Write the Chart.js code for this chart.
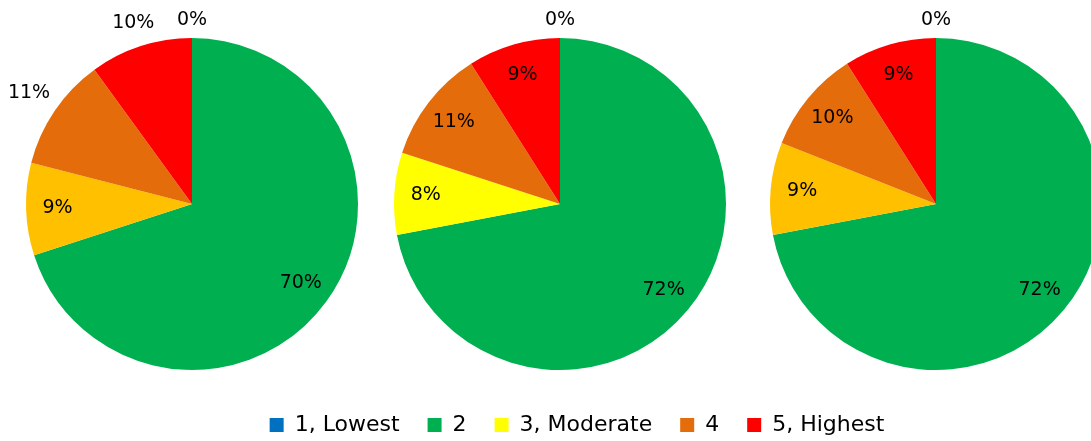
<!DOCTYPE html>
<html>
<head>
<meta charset="utf-8">
<script src="https://cdn.jsdelivr.net/npm/chart.js@4/dist/chart.umd.min.js"></script>
<style>
  html, body { margin: 0; padding: 0; background: #fff; }
  #stage { position: relative; width: 1091px; height: 441px; overflow: hidden; background: #fff; }
  #stage canvas { position: absolute; }
</style>
</head>
<body>
<div id="stage">
  <canvas id="pieA" width="432" height="432"></canvas>
  <canvas id="pieB" width="432" height="432"></canvas>
  <canvas id="pieC" width="432" height="432"></canvas>
  <canvas id="legend" width="1000" height="200"></canvas>
</div>
<script>
// Categories shared by all three pies
const categories = ['1, Lowest', '2', '3, Moderate', '4', '5, Highest'];

// Percentage shares for each pie
const sharesA = [0, 70, 9, 11, 10];
const sharesB = [0, 72, 8, 11, 9];
const sharesC = [0, 72, 9, 10, 9];

// Slice colours
const coloursAmber = ['#0070C0', '#00B050', '#FFC000', '#E46C0A', '#FF0000'];
const coloursYellow = ['#0070C0', '#00B050', '#FFFF00', '#E46C0A', '#FF0000'];

const LABEL_FONT = '19px "DejaVu Sans"';
const PIE_SIZE = 432;   // canvas size; pie radius = (PIE_SIZE - 2*PAD) / 2
const PAD = 50;

// Draws "n%" labels: inside the slice, or just outside the rim for listed slices
const sliceLabels = {
  id: 'sliceLabels',
  afterDatasetsDraw(chart, args, opts) {
    const ctx = chart.ctx;
    const meta = chart.getDatasetMeta(0);
    const values = chart.data.datasets[0].data;
    const outside = opts.outside || [];
    ctx.save();
    ctx.font = LABEL_FONT;
    ctx.fillStyle = '#000';
    ctx.textAlign = 'center';
    ctx.textBaseline = 'middle';
    meta.data.forEach((arc, i) => {
      const p = arc.getProps(['x', 'y', 'startAngle', 'endAngle', 'outerRadius'], true);
      const mid = (p.startAngle + p.endAngle) / 2;
      const text = values[i] + '%';
      const w = ctx.measureText(text).width;
      const h = 20;
      let d;
      if (outside.includes(i)) {
        d = p.outerRadius + 8 + Math.abs(Math.cos(mid)) * w / 2 + Math.abs(Math.sin(mid)) * h / 2;
      } else {
        d = p.outerRadius * 0.81;
      }
      ctx.fillText(text, p.x + Math.cos(mid) * d, p.y + Math.sin(mid) * d);
    });
    ctx.restore();
  }
};

function makePie(id, values, colours, outside, cx, cy) {
  const canvas = document.getElementById(id);
  canvas.style.left = (cx - PIE_SIZE / 2) + 'px';
  canvas.style.top = (cy - PIE_SIZE / 2) + 'px';
  return new Chart(canvas, {
    type: 'pie',
    data: {
      labels: categories,
      datasets: [{
        data: values,
        backgroundColor: colours,
        borderWidth: 0,
        hoverOffset: 0
      }]
    },
    options: {
      responsive: false,
      animation: false,
      events: [],
      layout: { padding: PAD },
      plugins: {
        legend: { display: false },
        tooltip: { enabled: false },
        sliceLabels: { outside }
      }
    },
    plugins: [sliceLabels]
  });
}

makePie('pieA', sharesA, coloursAmber, [0, 3, 4], 192, 204);
makePie('pieB', sharesB, coloursYellow, [0], 560, 204);
makePie('pieC', sharesC, coloursAmber, [0], 936, 204);

// Shared legend along the bottom (its own chart, with the slices themselves not drawn)
const legendCanvas = document.getElementById('legend');
legendCanvas.style.left = '77px';
legendCanvas.style.top = '386px';
new Chart(legendCanvas, {
  type: 'pie',
  data: {
    labels: categories,
    datasets: [{ data: sharesB, backgroundColor: coloursYellow, borderWidth: 0 }]
  },
  options: {
    responsive: false,
    animation: false,
    events: [],
    plugins: {
      tooltip: { enabled: false },
      legend: {
        display: true,
        position: 'top',
        labels: {
          boxWidth: 14,
          boxHeight: 14,
          padding: 28,
          color: '#000',
          font: { family: '"DejaVu Sans"', size: 22 }
        }
      }
    }
  },
  plugins: [{ id: 'legendOnly', beforeDatasetsDraw: () => false }]
});
</script>
</body>
</html>
